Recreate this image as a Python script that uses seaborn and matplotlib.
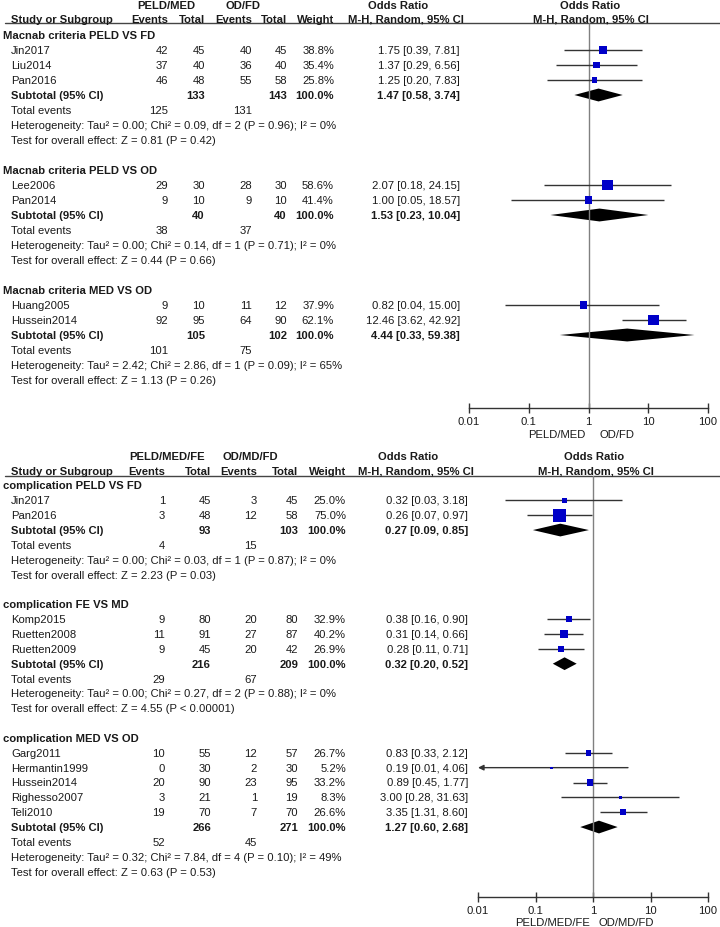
import pandas as pd
import matplotlib
matplotlib.use("Agg")
import matplotlib.pyplot as plt
from matplotlib.ticker import NullLocator
import seaborn as sns

# ---- panel 1: Macnab criteria ----
mac_arms = ["PELD/MED", "OD/FD"]
mac_groups = ["Macnab criteria PELD VS FD", "Macnab criteria PELD VS OD",
              "Macnab criteria MED VS OD"]
mac_studies = [["Jin2017", "Liu2014", "Pan2016"], ["Lee2006", "Pan2014"],
               ["Huang2005", "Hussein2014"]]
mac_ev1 = [[42, 37, 46], [29, 9], [9, 92]]
mac_tot1 = [[45, 40, 48], [30, 10], [10, 95]]
mac_ev2 = [[40, 36, 55], [28, 9], [11, 64]]
mac_tot2 = [[45, 40, 58], [30, 10], [12, 90]]
mac_weight = [[38.8, 35.4, 25.8], [58.6, 41.4], [37.9, 62.1]]
mac_or = [[1.75, 1.37, 1.25], [2.07, 1.00], [0.82, 12.46]]
mac_lo = [[0.39, 0.29, 0.20], [0.18, 0.05], [0.04, 3.62]]
mac_hi = [[7.81, 6.56, 7.83], [24.15, 18.57], [15.00, 42.92]]
mac_sub_or = [1.47, 1.53, 4.44]
mac_sub_lo = [0.58, 0.23, 0.33]
mac_sub_hi = [3.74, 10.04, 59.38]
mac_het = ["Tau² = 0.00; Chi² = 0.09, df = 2 (P = 0.96); I² = 0%",
           "Tau² = 0.00; Chi² = 0.14, df = 1 (P = 0.71); I² = 0%",
           "Tau² = 2.42; Chi² = 2.86, df = 1 (P = 0.09); I² = 65%"]
mac_z = ["Z = 0.81 (P = 0.42)", "Z = 0.44 (P = 0.66)", "Z = 1.13 (P = 0.26)"]

# ---- panel 2: complications ----
comp_arms = ["PELD/MED/FE", "OD/MD/FD"]
comp_groups = ["complication PELD VS FD", "complication FE VS MD",
               "complication MED VS OD"]
comp_studies = [["Jin2017", "Pan2016"],
                ["Komp2015", "Ruetten2008", "Ruetten2009"],
                ["Garg2011", "Hermantin1999", "Hussein2014", "Righesso2007", "Teli2010"]]
comp_ev1 = [[1, 3], [9, 11, 9], [10, 0, 20, 3, 19]]
comp_tot1 = [[45, 48], [80, 91, 45], [55, 30, 90, 21, 70]]
comp_ev2 = [[3, 12], [20, 27, 20], [12, 2, 23, 1, 7]]
comp_tot2 = [[45, 58], [80, 87, 42], [57, 30, 95, 19, 70]]
comp_weight = [[25.0, 75.0], [32.9, 40.2, 26.9], [26.7, 5.2, 33.2, 8.3, 26.6]]
comp_or = [[0.32, 0.26], [0.38, 0.31, 0.28], [0.83, 0.19, 0.89, 3.00, 3.35]]
comp_lo = [[0.03, 0.07], [0.16, 0.14, 0.11], [0.33, 0.01, 0.45, 0.28, 1.31]]
comp_hi = [[3.18, 0.97], [0.90, 0.66, 0.71], [2.12, 4.06, 1.77, 31.63, 8.60]]
comp_sub_or = [0.27, 0.32, 1.27]
comp_sub_lo = [0.09, 0.20, 0.60]
comp_sub_hi = [0.85, 0.52, 2.68]
comp_het = ["Tau² = 0.00; Chi² = 0.03, df = 1 (P = 0.87); I² = 0%",
            "Tau² = 0.00; Chi² = 0.27, df = 2 (P = 0.88); I² = 0%",
            "Tau² = 0.32; Chi² = 7.84, df = 4 (P = 0.10); I² = 49%"]
comp_z = ["Z = 2.23 (P = 0.03)", "Z = 4.55 (P < 0.00001)", "Z = 0.63 (P = 0.53)"]

ticks = [0.01, 0.1, 1, 10, 100]
tick_labels = ["0.01", "0.1", "1", "10", "100"]

TXT = "#1a1a1a"
BLUE = "#0000c8"
FS = 8.1

sns.set_theme(style="white")
plt.rcParams["font.family"] = ["Liberation Sans", "DejaVu Sans"]

fig = plt.figure(figsize=(7.2, 9.28), dpi=100)
bg = fig.add_axes([0, 0, 1, 1])
bg.set_xlim(0, 720)
bg.set_ylim(928, 0)
bg.axis("off")


def txt(x, y, s, ha="left", bold=False):
    bg.text(x, y, s, ha=ha, va="center", fontsize=FS, color=TXT,
            fontweight="bold" if bold else "normal")


def draw_panel(arms, groups, studies, ev1, tot1, ev2, tot2, weight, ors, los, his,
               sub_or, sub_lo, sub_hi, het, zs, lay):
    top, step, cols = lay["top"], lay["step"], lay["cols"]
    c_ev1, c_tot1, c_ev2, c_tot2, c_wt, c_ci = cols
    hy1, hy2, line_y = lay["head"]

    # header
    txt(lay["arm_x"][0], hy1, arms[0], "center", True)
    txt(lay["arm_x"][1], hy1, arms[1], "center", True)
    txt(lay["or_x"][0], hy1, "Odds Ratio", "center", True)
    txt(lay["or_x"][1], hy1, "Odds Ratio", "center", True)
    txt(11, hy2, "Study or Subgroup", bold=True)
    for x, s in zip(cols[:5], ["Events", "Total", "Events", "Total", "Weight"]):
        txt(x, hy2, s, "right", True)
    txt(lay["mh_x"][0], hy2, "M-H, Random, 95% CI", "center", True)
    txt(lay["mh_x"][1], hy2, "M-H, Random, 95% CI", "center", True)
    bg.plot([5, 720], [line_y, line_y], color="#444444", lw=1.0)

    # forest axes
    fx0, fx1, fy1 = lay["forest"]
    fax = fig.add_axes([fx0 / 720, 1 - fy1 / 928, (fx1 - fx0) / 720, (fy1 - line_y) / 928])
    fax.patch.set_alpha(0)

    rows, pts = 0, []
    for g in range(len(groups)):
        txt(3, top + step * rows, groups[g], bold=True)
        rows += 1
        for i, name in enumerate(studies[g]):
            y = top + step * rows
            txt(11, y, name)
            txt(c_ev1, y, str(ev1[g][i]), "right")
            txt(c_tot1, y, str(tot1[g][i]), "right")
            txt(c_ev2, y, str(ev2[g][i]), "right")
            txt(c_tot2, y, str(tot2[g][i]), "right")
            txt(c_wt, y, f"{weight[g][i]:.1f}%", "right")
            txt(c_ci, y, f"{ors[g][i]:.2f} [{los[g][i]:.2f}, {his[g][i]:.2f}]", "right")
            pts.append((ors[g][i], rows, weight[g][i]))
            if los[g][i] <= ticks[0]:
                fax.annotate("", xy=(ticks[0], rows), xytext=(his[g][i], rows),
                             arrowprops=dict(arrowstyle="-|>", color="#333333", lw=1,
                                             mutation_scale=8, shrinkA=0, shrinkB=0))
            else:
                fax.hlines(rows, los[g][i], his[g][i], color="#333333", lw=1)
            rows += 1
        # subtotal
        y = top + step * rows
        txt(11, y, "Subtotal (95% CI)", bold=True)
        txt(c_tot1, y, str(sum(tot1[g])), "right", True)
        txt(c_tot2, y, str(sum(tot2[g])), "right", True)
        txt(c_wt, y, f"{sum(weight[g]):.1f}%", "right", True)
        txt(c_ci, y, f"{sub_or[g]:.2f} [{sub_lo[g]:.2f}, {sub_hi[g]:.2f}]", "right", True)
        h = 0.43
        fax.fill([sub_lo[g], sub_or[g], sub_hi[g], sub_or[g]],
                 [rows, rows - h, rows, rows + h], color="black", lw=0)
        rows += 1
        y = top + step * rows
        txt(11, y, "Total events")
        txt(c_ev1, y, str(sum(ev1[g])), "right")
        txt(c_ev2, y, str(sum(ev2[g])), "right")
        rows += 1
        txt(11, top + step * rows, "Heterogeneity: " + het[g])
        rows += 1
        txt(11, top + step * rows, "Test for overall effect: " + zs[g])
        rows += 2

    df = pd.DataFrame(pts, columns=["or", "row", "w"])
    sizes = {w: ((1.3 + 0.155 * w) * 0.72) ** 2 for w in df["w"]}
    sns.scatterplot(data=df, x="or", y="row", size="w", sizes=sizes, marker="s",
                    color=BLUE, linewidth=0, legend=False, ax=fax, zorder=3)
    fax.axvline(1, color="#808080", lw=1, zorder=1)

    fax.set_xscale("log")
    fax.set_xlim(ticks[0], ticks[-1])
    fax.set_ylim((fy1 - top) / step, (line_y - top) / step)
    fax.set_xticks(ticks)
    fax.set_xticklabels(tick_labels)
    fax.xaxis.set_minor_locator(NullLocator())
    fax.set_yticks([])
    fax.set_xlabel("")
    fax.set_ylabel("")
    for s in ["top", "left", "right"]:
        fax.spines[s].set_visible(False)
    fax.spines["bottom"].set_color("#333333")
    fax.spines["bottom"].set_linewidth(1)
    fax.tick_params(axis="x", direction="inout", length=7, width=1, pad=2,
                    labelsize=FS, colors="#333333", labelcolor=TXT, bottom=True)

    txt(lay["foot_x"][0], lay["foot_y"], arms[0], "center")
    txt(lay["foot_x"][1], lay["foot_y"], arms[1], "center")


draw_panel(mac_arms, mac_groups, mac_studies, mac_ev1, mac_tot1, mac_ev2, mac_tot2,
           mac_weight, mac_or, mac_lo, mac_hi, mac_sub_or, mac_sub_lo, mac_sub_hi,
           mac_het, mac_z,
           dict(top=36, step=15, cols=(168, 205, 252, 287, 334, 460),
                head=(6, 20, 24), arm_x=(166, 243), or_x=(398, 590), mh_x=(406, 591),
                forest=(469, 708, 409), foot_x=(557, 617), foot_y=435))

draw_panel(comp_arms, comp_groups, comp_studies, comp_ev1, comp_tot1, comp_ev2, comp_tot2,
           comp_weight, comp_or, comp_lo, comp_hi, comp_sub_or, comp_sub_lo, comp_sub_hi,
           comp_het, comp_z,
           dict(top=486.5, step=14.85, cols=(165, 211, 257, 298, 346, 468),
                head=(457, 472, 477), arm_x=(167, 250), or_x=(408, 594), mh_x=(416, 596),
                forest=(478, 708, 898), foot_x=(553, 626), foot_y=923))

fig.savefig("out.png", dpi=100)
